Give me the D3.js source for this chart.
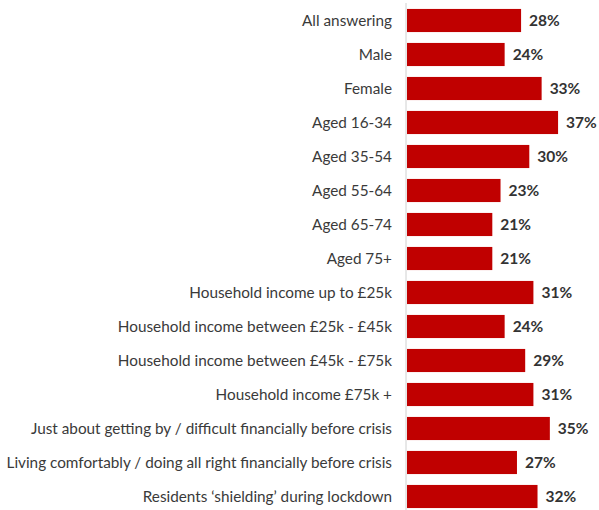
<!DOCTYPE html>
<html><head><meta charset="utf-8">
<script src="https://cdn.jsdelivr.net/npm/d3@7"></script>
<style>html,body{margin:0;padding:0;background:#fff;}</style>
</head><body>
<svg id="chart" width="599" height="510"></svg>
<script>
const categories = [
  "All answering","Male","Female","Aged 16-34","Aged 35-54","Aged 55-64","Aged 65-74","Aged 75+",
  "Household income up to £25k","Household income between £25k - £45k","Household income between £45k - £75k",
  "Household income £75k +","Just about getting by / difficult financially before crisis",
  "Living comfortably / doing all right financially before crisis","Residents \u2018shielding\u2019 during lockdown"
];
const values = [28,24,33,37,30,23,21,21,31,24,29,31,35,27,32];

const svg = d3.select("#chart");
const x0 = 406;
const x = d3.scaleLinear().domain([0, 100]).range([x0, x0 + 411]);
const y = d3.scaleBand().domain(categories).range([3.5, 513.5]).paddingInner(0.32).paddingOuter(0.16);

svg.append("line").attr("x1", x0).attr("x2", x0).attr("y1", 3).attr("y2", 510)
  .attr("stroke", "#d0d0d0").attr("stroke-width", 1);

svg.selectAll("rect.bar").data(values).join("rect").attr("class","bar")
  .attr("x", x0 + 1).attr("y", (d,i) => y(categories[i]))
  .attr("width", d => x(d) - x0 - 1).attr("height", y.bandwidth())
  .attr("fill", "#c00000");

svg.selectAll("text.cat").data(categories).join("text").attr("class","cat")
  .attr("x", 392).attr("y", d => y(d) + y.bandwidth()/2)
  .attr("dy", "0.35em").attr("text-anchor", "end")
  .attr("font-family", "Lato, 'Open Sans', sans-serif")
  .attr("font-size", 15.3).attr("fill", "#3a3a3a").text(d => d);

svg.selectAll("text.val").data(values).join("text").attr("class","val")
  .attr("x", d => x(d) + 8).attr("y", (d,i) => y(categories[i]) + y.bandwidth()/2)
  .attr("dy", "0.35em")
  .attr("font-family", "Lato, 'Open Sans', sans-serif")
  .attr("font-weight", "bold")
  .attr("font-size", 15.5).attr("fill", "#333").text(d => d + "%");
</script>
</body></html>
